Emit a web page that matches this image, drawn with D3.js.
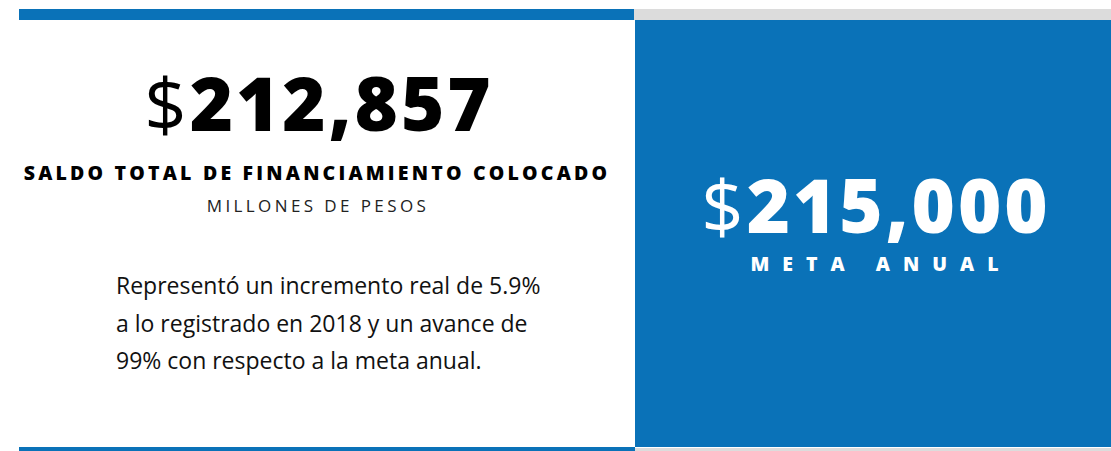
<!DOCTYPE html>
<html>
<head>
<meta charset="utf-8">
<script src="https://cdn.jsdelivr.net/npm/d3@7"></script>
<style>
  body{margin:0;background:#fff;}
  svg{display:block;}
</style>
</head>
<body>
<div id="chart-area"></div>
<script>
// Values shown in the card
const amounts=[212857,215000];
const amountLabels=['SALDO TOTAL DE FINANCIAMIENTO COLOCADO','META ANUAL'];
const subtitle='MILLONES DE PESOS';
const noteLines=[
  'Representó un incremento real de 5.9%',
  'a lo registrado en 2018 y un avance de',
  '99% con respecto a la meta anual.'
];

const width=1111;
const height=451;
const blue='#0a72b8';
const grey='#dcdcdc';
const fmt=d3.format(',');

const svg=d3.select('#chart-area').append('svg')
  .attr('width',width)
  .attr('height',height);

// split of the card: left white panel, right blue panel
const x=d3.scaleLinear().domain([0,1]).range([19,width]);
const split=634;

// top strip
svg.append('rect').attr('x',x(0)).attr('y',9).attr('width',split-x(0)).attr('height',11).attr('fill',blue);
svg.append('rect').attr('x',split).attr('y',9).attr('width',width-split).attr('height',11).attr('fill',grey);
// right panel
svg.append('rect').attr('x',split+1).attr('y',20).attr('width',width-split-1).attr('height',427).attr('fill',blue);
// bottom strip
svg.append('rect').attr('x',x(0)).attr('y',447).attr('width',split+1-x(0)).attr('height',4).attr('fill',blue);
svg.append('rect').attr('x',split+1).attr('y',448).attr('width',width-split-1).attr('height',3).attr('fill',grey);

function bigNumber(cx,cy,v,color){
  const t=svg.append('text')
    .attr('x',cx).attr('y',cy)
    .attr('text-anchor','middle')
    .attr('fill',color)
    .attr('font-family','Open Sans')
    .attr('font-size','74px')
    .attr('letter-spacing','3px');
  t.append('tspan').attr('font-weight',400).text('$');
  t.append('tspan').attr('font-weight',800).text(fmt(v));
}

// left panel
bigNumber(319,131,amounts[0],'#000');
svg.append('text')
  .attr('x',317).attr('y',180)
  .attr('text-anchor','middle')
  .attr('font-family','Open Sans')
  .attr('font-weight',800)
  .attr('font-size','19.5px')
  .attr('letter-spacing','3.2px')
  .text(amountLabels[0]);
svg.append('text')
  .attr('x',318).attr('y',212)
  .attr('text-anchor','middle')
  .attr('font-family','Open Sans')
  .attr('font-size','17px')
  .attr('letter-spacing','3.4px')
  .attr('fill','#222')
  .text(subtitle);

svg.selectAll('.note')
  .data(noteLines)
  .enter()
  .append('text')
  .attr('class','note')
  .attr('x',116)
  .attr('y',(d,i)=>294+i*37.5)
  .attr('font-family','Open Sans')
  .attr('font-size','23px')
  .attr('fill','#111')
  .text(d=>d);

// right panel
bigNumber(876,233,amounts[1],'#fff');
svg.append('text')
  .attr('x',881).attr('y',271)
  .attr('text-anchor','middle')
  .attr('font-family','Open Sans')
  .attr('font-weight',800)
  .attr('font-size','19.5px')
  .attr('letter-spacing','13px')
  .attr('fill','#fff')
  .text(amountLabels[1]);
</script>
</body>
</html>
